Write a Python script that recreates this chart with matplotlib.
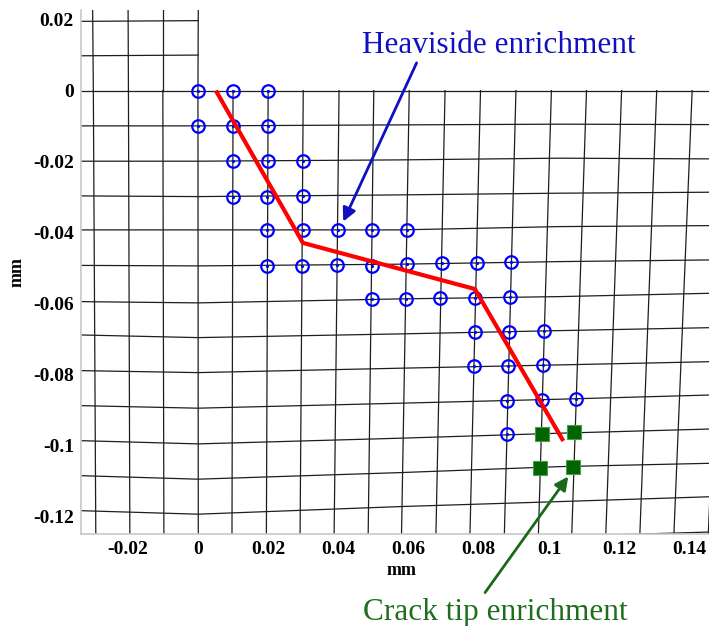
import numpy as np
import matplotlib
matplotlib.use("Agg")
import matplotlib.pyplot as plt

# mesh: columns (x at row y=0 and at y=-0.125), rows (y at a few x stations)
col_x_top = [-0.0298, -0.0198, -0.0100, 0.0, 0.0100, 0.0200, 0.0300, 0.0402, 0.0501,
             0.0602, 0.0704, 0.0805, 0.0906, 0.1007, 0.1107, 0.1207, 0.1307, 0.1408, 0.1507]
col_x_bot = [-0.0291, -0.0194, -0.0097, 0.0001, 0.0097, 0.0195, 0.0291, 0.0388, 0.0485,
             0.0580, 0.0678, 0.0775, 0.0873, 0.0970, 0.1065, 0.1162, 0.1259, 0.1356, 0.1454]
upper_col_x = [-0.0300, -0.0199, -0.0100, 0.0001]   # x of left block columns at the top edge
upper_row_y = [[0.0098, 0.0100], [0.0195, 0.0197]]  # rows above y=0 (from left edge to x=0)

station_x = [-0.034, 0.0, 0.0575, 0.103, 0.147]
row_y = [
    [0.0, 0.0, 0.0, 0.0, 0.0],
    [-0.00994, -0.00994, -0.00966, -0.00946, -0.00958],
    [-0.01989, -0.01989, -0.01952, -0.01904, -0.01924],
    [-0.02966, -0.02986, -0.02938, -0.02890, -0.02862],
    [-0.03924, -0.03924, -0.03924, -0.03831, -0.03803],
    [-0.04924, -0.04938, -0.04890, -0.04817, -0.04769],
    [-0.05944, -0.05980, -0.05868, -0.05803, -0.05707],
    [-0.06882, -0.06958, -0.06854, -0.06761, -0.06676],
    [-0.07887, -0.07944, -0.07820, -0.07727, -0.07634],
    [-0.08873, -0.08946, -0.08806, -0.08693, -0.08572],
    [-0.09859, -0.09952, -0.09792, -0.09651, -0.09530],
    [-0.10845, -0.10946, -0.10761, -0.10592, -0.10496],
    [-0.11831, -0.11932, -0.11718, -0.11577, -0.11437],
    [-0.12825, -0.12924, -0.12685, -0.12558, -0.12431],
]

# crack path
crack_x = [0.0051, 0.0299, 0.0789, 0.1041]
crack_y = [0.0, -0.0429, -0.0559, -0.0987]

# heaviside enriched nodes
heav_x = [0.0, 0.0100, 0.0200,
          0.0, 0.0100, 0.0200,
          0.0100, 0.0200, 0.0300,
          0.0100, 0.0198, 0.0298,
          0.0196, 0.0298, 0.0398, 0.0496, 0.0596,
          0.0196, 0.0297, 0.0397, 0.0495, 0.0595, 0.0694, 0.0794, 0.0891,
          0.0495, 0.0593, 0.0691, 0.0790, 0.0889,
          0.0789, 0.0887, 0.0986,
          0.0786, 0.0884, 0.0984,
          0.0881, 0.0981, 0.1077,
          0.0880]
heav_y = [0.0, 0.0, 0.0,
          -0.0099, -0.0099, -0.0099,
          -0.0199, -0.0199, -0.0197,
          -0.0299, -0.0299, -0.0297,
          -0.0392, -0.0392, -0.0392, -0.0392, -0.0392,
          -0.0494, -0.0494, -0.0491, -0.0493, -0.0488, -0.0487, -0.0486, -0.0483,
          -0.0587, -0.0586, -0.0585, -0.0583, -0.0581,
          -0.0681, -0.0679, -0.0676,
          -0.0777, -0.0775, -0.0773,
          -0.0873, -0.0871, -0.0868,
          -0.0968]

# crack tip enriched nodes
tip_x = [0.0979, 0.1072, 0.0974, 0.1069]
tip_y = [-0.0968, -0.0963, -0.1062, -0.1059]

xticks = [-0.02, 0, 0.02, 0.04, 0.06, 0.08, 0.1, 0.12, 0.14]
yticks = [0.02, 0, -0.02, -0.04, -0.06, -0.08, -0.1, -0.12]

plt.rcParams['font.family'] = ['Liberation Serif', 'DejaVu Serif']

fig = plt.figure(figsize=(7.09, 6.26), dpi=100)
ax = fig.add_axes([80.7 / 709, 1 - 534 / 626, (709 - 80.7) / 709, (534 - 10) / 626])

mesh_kw = dict(color='#1e1e1e', lw=0.9, zorder=1)
for ry in row_y:
    ax.plot(station_x, ry, **mesh_kw)
for xt, xb in zip(col_x_top, col_x_bot):
    ax.plot([xt, xb], [0.0, -0.125], **mesh_kw)
for xu, xt in zip(upper_col_x, col_x_top[:4]):
    ax.plot([xu, xt], [0.023, 0.0], **mesh_kw)
for ry in upper_row_y:
    ax.plot([-0.034, 0.0], ry, **mesh_kw)

ax.plot(heav_x, heav_y, 'o', ms=9, mfc='none', mec='#0000ff', mew=1.6, zorder=3)
ax.plot(heav_x, heav_y, '.', ms=2.5, color='#0000ff', zorder=3)
ax.plot(crack_x, crack_y, color='#ff0000', lw=3, zorder=4, solid_capstyle='butt')
ax.plot(tip_x, tip_y, 's', ms=10, mfc='#006400', mec='#4a9a4a', mew=0.8, zorder=5)

ax.annotate('', xy=(0.0414, -0.0369), xytext=(0.0623, 0.0078),
            arrowprops=dict(arrowstyle='-|>', color='#1010c0', lw=2, mutation_scale=20,
                            shrinkA=0, shrinkB=0), zorder=6)
ax.text(0.0858, 0.0127, 'Heaviside enrichment', color='#1010c0', fontsize=22.5,
        ha='center', va='center')

ax.annotate('', xy=(0.1055, -0.1087), xytext=(0.0818, -0.1414),
            arrowprops=dict(arrowstyle='-|>', color='#1a6a1a', lw=2, mutation_scale=20,
                            shrinkA=0, shrinkB=0), annotation_clip=False, zorder=6)
ax.text(0.0846, -0.1470, 'Crack tip enrichment', color='#1e6e1e', fontsize=22.5,
        ha='center', va='center', clip_on=False)

ax.set_xlim(-0.0334, 0.1456)
ax.set_ylim(-0.1249, 0.0227)
ax.set_xticks(xticks)
ax.set_xticklabels(['-0.02', '0', '0.02', '0.04', '0.06', '0.08', '0.1', '0.12', '0.14'])
ax.set_yticks(yticks)
ax.set_yticklabels(['0.02', '0', '-0.02', '-0.04', '-0.06', '-0.08', '-0.1', '-0.12'])
ax.tick_params(length=0, labelsize=14, pad=5)
for lab in ax.get_xticklabels() + ax.get_yticklabels():
    lab.set_fontweight('bold')

ax.set_xlabel('mm', fontsize=13, fontweight='bold')
ax.set_ylabel('mm', fontsize=13, fontweight='bold')
ax.xaxis.set_label_coords(0.51, -0.053)
ax.yaxis.set_label_coords(-0.088, 0.5)

for s in ['top', 'right']:
    ax.spines[s].set_visible(False)
for s in ['left', 'bottom']:
    ax.spines[s].set_color('#c8c8c8')
    ax.spines[s].set_linewidth(1.2)

fig.savefig('out.png', dpi=100)
